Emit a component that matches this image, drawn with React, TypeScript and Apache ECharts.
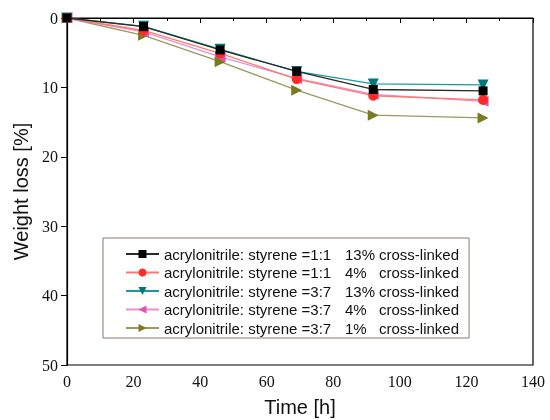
import React, { useEffect, useRef } from "react";
import * as echarts from "echarts";

const times = [0, 23, 46, 69, 92, 125];
const an11_13 = [0, 1.25, 4.6, 7.7, 10.3, 10.5];
const an11_4 = [0, 1.8, 5.1, 8.8, 11.2, 11.8];
const an37_13 = [0, 1.2, 4.5, 7.7, 9.5, 9.65];
const an37_4 = [0, 2.0, 5.6, 8.7, 11.0, 12.0];
const an37_1 = [0, 2.5, 6.3, 10.4, 14.0, 14.4];

const seriesNames = [
  "acrylonitrile: styrene =1:1|13%",
  "acrylonitrile: styrene =1:1|4%",
  "acrylonitrile: styrene =3:7|13%",
  "acrylonitrile: styrene =3:7|4%",
  "acrylonitrile: styrene =3:7|1%",
];
const seriesData = [an11_13, an11_4, an37_13, an37_4, an37_1];
const lineColors = ["#2a2a2a", "#ff7a6a", "#1a9a9a", "#e890d0", "#9a9a60"];
const markerColors = ["#000000", "#ff2a2a", "#007878", "#e050b8", "#7a7a20"];
const symbols = ["rect", "circle", "triangle", "triangle", "triangle"];
const rotations = [0, 0, 180, 90, -90];
const sizes = [9, 10, 11, 11, 11];

export default function App() {
  const ref = useRef<HTMLDivElement>(null);
  useEffect(() => {
    if (!ref.current) return;
    const chart = echarts.init(ref.current, null, { renderer: "svg" });
    const txt = { fontFamily: "Liberation Sans", fontSize: 15, color: "#111", lineHeight: 16 };
    chart.setOption({
      animation: false,
      grid: {
        left: 67,
        right: 17,
        top: 18,
        bottom: 55,
        show: true,
        borderColor: "#000",
        borderWidth: 1.2,
        containLabel: false,
        outerBoundsMode: "none",
      },
      legend: {
        orient: "vertical",
        left: 103,
        top: 238,
        width: 367,
        padding: [8, 10, 2, 22],
        itemWidth: 33,
        itemHeight: 10,
        itemGap: 2.5,
        borderColor: "#8a7a70",
        borderWidth: 1,
        backgroundColor: "#fff",
        formatter: (name: string) => {
          const [a, b] = name.split("|");
          return `{a|${a}}{b|${b}}{c|cross-linked}`;
        },
        textStyle: {
          ...txt,
          rich: {
            a: { ...txt, width: 181 },
            b: { ...txt, width: 34 },
            c: { ...txt },
          },
        },
        data: seriesNames.map((n) => ({ name: n })),
      },
      xAxis: {
        type: "value",
        min: 0,
        max: 140,
        interval: 20,
        name: "Time [h]",
        nameLocation: "middle",
        nameGap: 32,
        nameTextStyle: { fontFamily: "Liberation Sans", fontSize: 20, color: "#111" },
        axisLine: { show: true, lineStyle: { color: "#000", width: 1.2 } },
        axisTick: { show: true, length: 5, lineStyle: { color: "#000" } },
        minorTick: { show: true, splitNumber: 2, length: 3, lineStyle: { color: "#000" } },
        axisLabel: { fontFamily: "Liberation Serif", fontSize: 16, color: "#111", margin: 8 },
        splitLine: { show: false },
      },
      yAxis: {
        type: "value",
        inverse: true,
        min: 0,
        max: 50,
        interval: 10,
        name: "Weight loss [%]",
        nameLocation: "middle",
        nameGap: 35,
        nameTextStyle: { fontFamily: "Liberation Sans", fontSize: 20, color: "#111" },
        axisLine: { show: true, lineStyle: { color: "#000", width: 1.2 } },
        axisTick: { show: true, length: 6, lineStyle: { color: "#000" } },
        axisLabel: { fontFamily: "Liberation Serif", fontSize: 16, color: "#111", margin: 9 },
        splitLine: { show: false },
      },
      series: seriesData.map((d, i) => ({
        name: seriesNames[i],
        type: "line",
        data: times.map((t, j) => [t, d[j]]),
        symbol: symbols[i],
        symbolSize: sizes[i],
        symbolRotate: rotations[i],
        showAllSymbol: true,
        lineStyle: { color: lineColors[i], width: 1.3 },
        itemStyle: { color: markerColors[i], borderWidth: 0 },
        z: 10 - i,
      })),
    });
    return () => chart.dispose();
  }, []);
  return (
    <div
      ref={ref}
      style={{ position: "fixed", left: 0, top: 0, width: 550, height: 420 }}
    />
  );
}
